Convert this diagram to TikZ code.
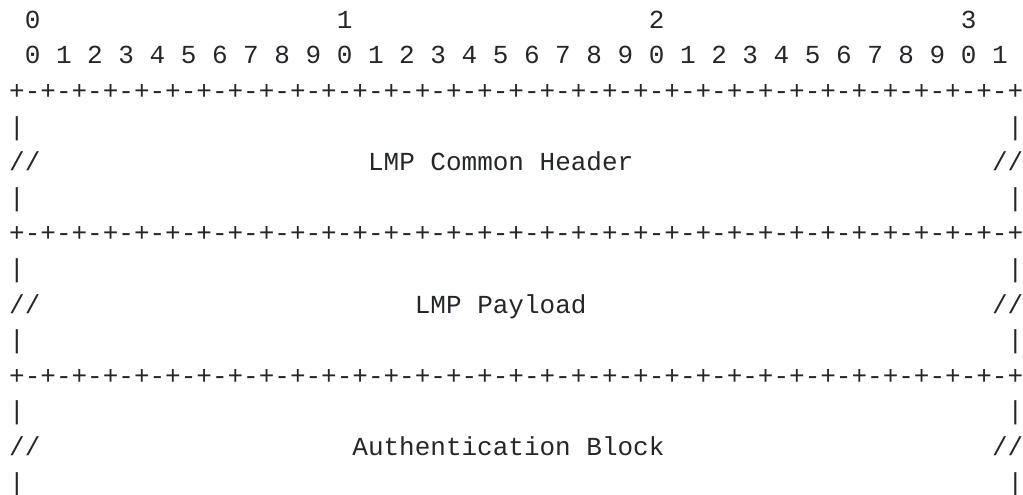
\documentclass[tikz,border=0pt]{standalone}
\usepackage{fontspec}
\newfontfamily\mono{Liberation Mono}
\definecolor{ink}{RGB}{36,38,41}

% grid of character cells: column pitch 15.602pt, line pitch 35.6pt
\newcommand\cell[4]{%
  \node[txt] (#1) at ({9.2pt+15.602pt*#2}, {-28.3pt-35.6pt*#3}) {#4};}
\newcommand\seg{+-+-+-+-}

\begin{document}
\begin{tikzpicture}[
  txt/.style={inner sep=0pt, outer sep=0pt, anchor=base west, text=ink,
              font=\mono\fontsize{26}{35.6}\selectfont}]
\clip (0,0) rectangle (1023pt,-495pt);

% bit ruler
\cell{t0}{1}{0}{0}
\cell{t1}{21}{0}{1}
\cell{t2}{41}{0}{2}
\cell{t3}{61}{0}{3}
\cell{bits}{1}{1}{0 1 2 3 4 5 6 7 8 9 0 1 2 3 4 5 6 7 8 9 0 1 2 3 4 5 6 7 8 9 0 1}

% separator lines
\cell{r1}{0}{2}{\seg\seg\seg\seg\seg\seg\seg\seg+}
\cell{r2}{0}{6}{\seg\seg\seg\seg\seg\seg\seg\seg+}
\cell{r3}{0}{10}{\seg\seg\seg\seg\seg\seg\seg\seg+}

% field: LMP Common Header
\cell{a1l}{0}{3}{|}  \cell{a1r}{64}{3}{|}
\cell{a2l}{0}{4}{//} \cell{hdr}{23}{4}{LMP Common Header} \cell{a2r}{63}{4}{//}
\cell{a3l}{0}{5}{|}  \cell{a3r}{64}{5}{|}

% field: LMP Payload
\cell{b1l}{0}{7}{|}  \cell{b1r}{64}{7}{|}
\cell{b2l}{0}{8}{//} \cell{pay}{26}{8}{LMP Payload} \cell{b2r}{63}{8}{//}
\cell{b3l}{0}{9}{|}  \cell{b3r}{64}{9}{|}

% field: Authentication Block
\cell{c1l}{0}{11}{|}  \cell{c1r}{64}{11}{|}
\cell{c2l}{0}{12}{//} \cell{auth}{22}{12}{Authentication Block} \cell{c2r}{63}{12}{//}
\cell{c3l}{0}{13}{|}  \cell{c3r}{64}{13}{|}
\end{tikzpicture}
\end{document}
